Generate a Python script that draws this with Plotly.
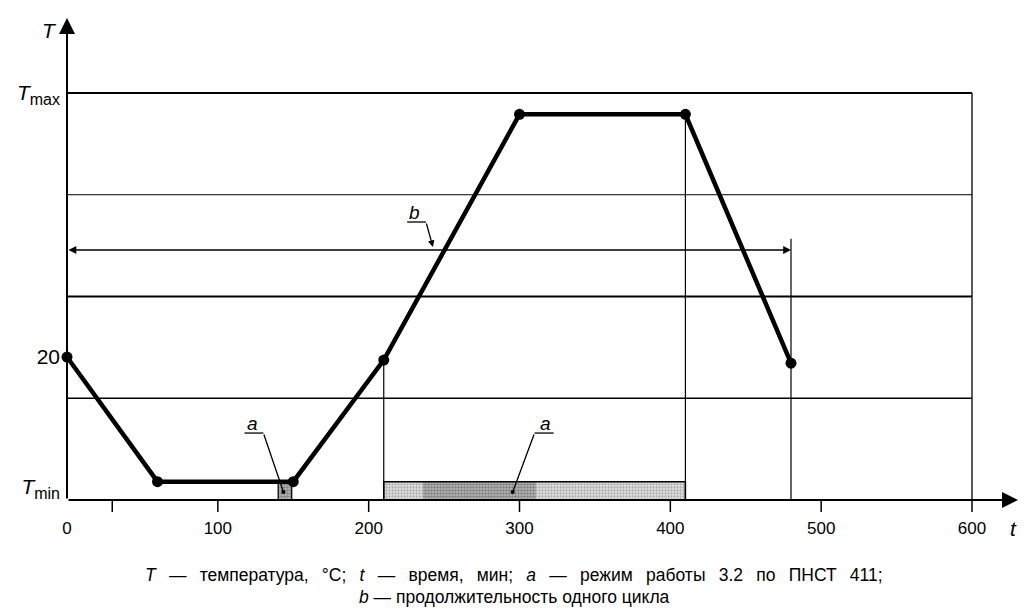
import plotly.graph_objects as go

# ---- data (time in min, temperature in relative level units) ----
time_pts = [0, 60, 150, 210, 300, 410, 480]
temp_lvls = [1.405, 0.18, 0.18, 1.375, 3.79, 3.79, 1.345]

x_tick_vals = [0, 100, 200, 300, 400, 500, 600]
x_tick_text = ["0", "100", "200", "300", "400", "500", "600"]
x_tick_marks = [30, 100, 200, 300, 400, 500, 600]

y_tick_vals = [0.13, 1.405, 4.0]
y_tick_text = ["<i>T</i><sub><span style='font-size:16px'>min</span></sub>", "20",
               "<i>T</i><sub><span style='font-size:16px'>max</span></sub>"]

grid_levels = [1, 2, 3, 4]
grid_widths = [1.3, 2, 1, 2]

# regime a segments: start, end, shade (light/dark)
seg_start = [140, 210, 236, 311]
seg_end = [149, 236, 311, 410]
seg_dark = [True, False, True, False]
mode_small = [140, 149]
mode_big = [210, 410]
mode_height = 0.18

cycle_span = [0, 480]
cycle_level = 2.457

X_MAX = 630.5
Y_MAX = 4.737

PL, PB, PW, PH = 65, 500, 953, 482


def px(xs):
    return (xs - PL) / PW


def py(ys):
    return (PB - ys) / PH


fig = go.Figure()

# stippled regime bars
for s, e, d in zip(seg_start, seg_end, seg_dark):
    fig.add_trace(go.Bar(
        x=[(s + e) / 2], y=[mode_height], width=[e - s], base=0,
        marker=dict(color="white", line=dict(width=0),
                    pattern=dict(shape=".", size=3, solidity=0.6 if d else 0.45,
                                 fgcolor="#444444" if d else "#777777",
                                 bgcolor="#bfbfbf" if d else "#e2e2e2")),
        showlegend=False, hoverinfo="skip"))

shapes = []
for lv, w in zip(grid_levels, grid_widths):
    shapes.append(dict(type="line", xref="x", yref="y", x0=0, x1=600, y0=lv, y1=lv,
                       line=dict(color="black", width=w)))
shapes.append(dict(type="line", xref="x", yref="y", x0=600, x1=600, y0=0, y1=4,
                   line=dict(color="black", width=1.3)))
shapes.append(dict(type="rect", xref="x", yref="y", x0=mode_small[0], x1=mode_small[1],
                   y0=0, y1=mode_height, line=dict(color="black", width=1.2)))
shapes.append(dict(type="rect", xref="x", yref="y", x0=mode_big[0], x1=mode_big[1],
                   y0=0, y1=mode_height, line=dict(color="black", width=1.5)))
shapes.append(dict(type="line", xref="x", yref="y", x0=time_pts[3], x1=time_pts[3],
                   y0=0, y1=temp_lvls[3], line=dict(color="black", width=1.2)))
shapes.append(dict(type="line", xref="x", yref="y", x0=time_pts[5], x1=time_pts[5],
                   y0=0, y1=temp_lvls[5], line=dict(color="black", width=1.2)))
shapes.append(dict(type="line", xref="x", yref="y", x0=cycle_span[1], x1=cycle_span[1],
                   y0=0, y1=cycle_level + 0.11, line=dict(color="black", width=1.2)))
for tv in x_tick_marks:
    shapes.append(dict(type="line", xref="x", yref="paper", x0=tv, x1=tv, y0=0, y1=-12 / PH,
                       line=dict(color="black", width=1.5)))
shapes.append(dict(type="line", xref="x", yref="y", x0=225.5, x1=238, y0=2.732, y1=2.732,
                   line=dict(color="black", width=1.3)))
shapes.append(dict(type="line", xref="x", yref="y", x0=117.7, x1=130.2, y0=0.658, y1=0.658,
                   line=dict(color="black", width=1.3)))
shapes.append(dict(type="line", xref="x", yref="y", x0=310, x1=322.6, y0=0.658, y1=0.658,
                   line=dict(color="black", width=1.3)))

fig.add_trace(go.Scatter(x=time_pts, y=temp_lvls, mode="lines+markers",
                         line=dict(color="black", width=4.5),
                         marker=dict(color="black", size=11),
                         showlegend=False, cliponaxis=False, hoverinfo="skip"))

anns = []
anns.append(dict(x=0, y=Y_MAX, ax=0, ay=0, xref="x", yref="y", axref="x", ayref="y",
                 text="", showarrow=True, arrowhead=2, arrowsize=1.6, arrowwidth=2,
                 arrowcolor="black", standoff=0))
anns.append(dict(x=X_MAX, y=0, ax=0, ay=0, xref="x", yref="y", axref="x", ayref="y",
                 text="", showarrow=True, arrowhead=2, arrowsize=1.6, arrowwidth=2,
                 arrowcolor="black", standoff=0))
anns.append(dict(x=cycle_span[1], y=cycle_level, ax=cycle_span[0], ay=cycle_level,
                 xref="x", yref="y", axref="x", ayref="y", text="", showarrow=True,
                 arrowhead=2, arrowside="end+start", arrowsize=1.2, arrowwidth=1.3,
                 arrowcolor="black", standoff=0, startstandoff=0))
anns.append(dict(x=242.6, y=cycle_level + 0.03, ax=238, ay=2.732, xref="x", yref="y",
                 axref="x", ayref="y", text="", showarrow=True, arrowhead=2, arrowsize=1,
                 arrowwidth=1.3, arrowcolor="black", standoff=0))
anns.append(dict(x=143.5, y=0.079, ax=130.2, ay=0.658, xref="x", yref="y",
                 axref="x", ayref="y", text="", showarrow=True, arrowhead=6, arrowsize=0.8,
                 arrowwidth=1.3, arrowcolor="black", standoff=0))
anns.append(dict(x=295.5, y=0.079, ax=310, ay=0.658, xref="x", yref="y",
                 axref="x", ayref="y", text="", showarrow=True, arrowhead=6, arrowsize=0.8,
                 arrowwidth=1.3, arrowcolor="black", standoff=0))

lab_font = dict(family="Liberation Sans, Arial", size=19, color="black")
anns.append(dict(x=230.5, y=2.83, xref="x", yref="y", text="<i>b</i>", showarrow=False, font=lab_font))
anns.append(dict(x=123, y=0.75, xref="x", yref="y", text="<i>a</i>", showarrow=False, font=lab_font))
anns.append(dict(x=317.4, y=0.75, xref="x", yref="y", text="<i>a</i>", showarrow=False, font=lab_font))

ax_font = dict(family="Liberation Sans, Arial", size=21, color="black")
anns.append(dict(x=px(47), y=py(30), xref="paper", yref="paper", text="<i>T</i>",
                 showarrow=False, xanchor="center", yanchor="middle", font=ax_font))
anns.append(dict(x=px(1013), y=py(528), xref="paper", yref="paper", text="<i>t</i>",
                 showarrow=False, xanchor="center", yanchor="middle", font=ax_font))

cap_font = dict(family="Liberation Sans, Arial", size=17.5, color="black")
sp = "&nbsp;&#8201; "
line1 = sp.join(["<i>T</i>", "—", "температура,", "°C;", "<i>t</i>", "—", "время,", "мин;",
                 "<i>a</i>", "—", "режим", "работы", "3.2", "по", "ПНСТ", "411;"])
line2 = "<i>b</i> — продолжительность одного цикла"
anns.append(dict(x=px(513), y=py(575), xref="paper", yref="paper", text=line1,
                 showarrow=False, xanchor="center", yanchor="middle", font=cap_font))
anns.append(dict(x=px(513), y=py(597), xref="paper", yref="paper", text=line2,
                 showarrow=False, xanchor="center", yanchor="middle", font=cap_font))

fig.update_layout(
    width=1019, height=600,
    margin=dict(l=57, r=9, t=10, b=108),
    plot_bgcolor="white", paper_bgcolor="white",
    barmode="overlay", bargap=0,
    shapes=shapes, annotations=anns,
    xaxis=dict(range=[0, X_MAX], tickvals=x_tick_vals, ticktext=x_tick_text,
               showgrid=False, zeroline=False, showline=False, ticks="",
               ticklabelstandoff=16,
               tickfont=dict(family="Liberation Sans, Arial", size=17, color="black")),
    yaxis=dict(range=[0, Y_MAX], tickvals=y_tick_vals, ticktext=y_tick_text,
               showgrid=False, zeroline=False, showline=False, ticks="",
               ticklabelstandoff=6,
               tickfont=dict(family="Liberation Sans, Arial", size=21, color="black")),
)

fig.write_html("out.html")
